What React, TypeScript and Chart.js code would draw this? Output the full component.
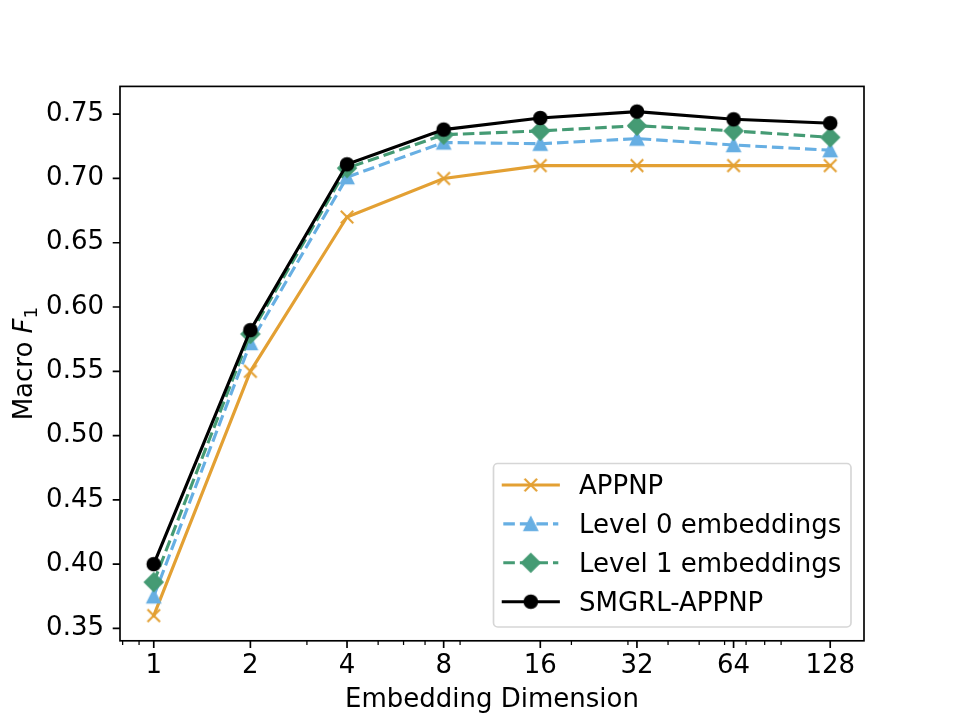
import React, { useEffect, useRef } from "react";
import { Chart, registerables } from "chart.js";

Chart.register(...registerables);

// ---------------- data ----------------
const DIMENSIONS = [1, 2, 4, 8, 16, 32, 64, 128];
const APPNP = [0.36, 0.55, 0.67, 0.7, 0.71, 0.71, 0.71, 0.71];
const LEVEL0 = [0.375, 0.572, 0.701, 0.728, 0.727, 0.731, 0.726, 0.722];
const LEVEL1 = [0.386, 0.579, 0.708, 0.734, 0.737, 0.741, 0.737, 0.732];
const SMGRL = [0.4, 0.582, 0.711, 0.738, 0.747, 0.752, 0.746, 0.743];
const SERIES_NAMES = ["APPNP", "Level 0 embeddings", "Level 1 embeddings", "SMGRL-APPNP"];
const X_TICKS = [1, 2, 4, 8, 16, 32, 64, 128];
const X_MINOR_TICKS = [0.8, 0.9, 3, 5, 6, 7, 9, 20, 30, 40, 50, 60, 70, 80, 90];
const Y_TICKS = [0.35, 0.4, 0.45, 0.5, 0.55, 0.6, 0.65, 0.7, 0.75];
const X_MIN = 0.785;
const X_MAX = 163.1;
const Y_MIN = 0.3404;
const Y_MAX = 0.7716;
const X_TITLE = "Embedding Dimension";
const Y_TITLE_MAIN = "Macro ";
const Y_TITLE_ITALIC = "F";
const Y_TITLE_SUB = "1";

// ---------------- styles ----------------
const PX = 150 / 72;
const FONT = '"DejaVu Sans", "Liberation Sans", sans-serif';
const FS = 26;
const COLORS = ["#E3A033", "#67AFE3", "#459B74", "#000000"];
const MARKERS = ["x", "triangle", "diamond", "circle"];
const DASHED = [false, true, true, false];
const DASH = [3.7 * 1.5 * PX, 1.6 * 1.5 * PX];

function makeMarker(kind: string, color: string): HTMLCanvasElement {
  const c = document.createElement("canvas");
  c.width = 30;
  c.height = 30;
  const ctx = c.getContext("2d")!;
  ctx.translate(15, 15);
  const ms = 6 * PX;
  const h = ms / 2;
  ctx.fillStyle = color;
  ctx.strokeStyle = color;
  ctx.lineWidth = 1 * PX;
  ctx.lineJoin = "miter";
  ctx.lineCap = "butt";
  ctx.beginPath();
  if (kind === "x") {
    ctx.moveTo(-h, -h);
    ctx.lineTo(h, h);
    ctx.moveTo(-h, h);
    ctx.lineTo(h, -h);
    ctx.stroke();
  } else if (kind === "triangle") {
    ctx.moveTo(0, -h);
    ctx.lineTo(-h, h);
    ctx.lineTo(h, h);
    ctx.closePath();
    ctx.fill();
    ctx.stroke();
  } else if (kind === "diamond") {
    const d = ms * Math.SQRT1_2;
    ctx.moveTo(0, -d);
    ctx.lineTo(d, 0);
    ctx.lineTo(0, d);
    ctx.lineTo(-d, 0);
    ctx.closePath();
    ctx.fill();
    ctx.stroke();
  } else {
    ctx.arc(0, 0, h, 0, Math.PI * 2);
    ctx.fill();
    ctx.stroke();
  }
  return c;
}

export default function App() {
  const ref = useRef<HTMLCanvasElement>(null);

  useEffect(() => {
    const canvas = ref.current!;
    const markerImgs = MARKERS.map((m, i) => makeMarker(m, COLORS[i]));
    const seriesValues = [APPNP, LEVEL0, LEVEL1, SMGRL];

    const datasets = seriesValues.map((vals, i) => ({
      label: SERIES_NAMES[i],
      data: DIMENSIONS.map((x, j) => ({ x, y: vals[j] })),
      borderColor: COLORS[i],
      backgroundColor: COLORS[i],
      borderWidth: 1.5 * PX,
      borderDash: DASHED[i] ? DASH : [],
      borderCapStyle: DASHED[i] ? "butt" : "square",
      pointStyle: markerImgs[i],
      pointRadius: 6,
      pointHoverRadius: 6,
      tension: 0,
      order: 3 - i,
    }));

    const decor = {
      id: "decor",
      beforeDraw(chart: any) {
        const { ctx } = chart;
        ctx.save();
        ctx.fillStyle = "#ffffff";
        ctx.fillRect(0, 0, chart.width, chart.height);
        ctx.restore();
      },
      afterDatasetsDraw(chart: any) {
        const { ctx, chartArea: a, scales } = chart;
        ctx.save();
        ctx.strokeStyle = "#000";
        ctx.setLineDash([]);
        // major ticks
        ctx.lineWidth = 0.8 * PX;
        ctx.beginPath();
        for (const v of Y_TICKS) {
          const y = scales.y.getPixelForValue(v);
          ctx.moveTo(a.left, y);
          ctx.lineTo(a.left - 3.5 * PX, y);
        }
        for (const v of X_TICKS) {
          const x = scales.x.getPixelForValue(v);
          ctx.moveTo(x, a.bottom);
          ctx.lineTo(x, a.bottom + 3.5 * PX);
        }
        ctx.stroke();
        // minor ticks
        ctx.lineWidth = 0.6 * PX;
        ctx.beginPath();
        for (const v of X_MINOR_TICKS) {
          const x = scales.x.getPixelForValue(v);
          ctx.moveTo(x, a.bottom);
          ctx.lineTo(x, a.bottom + 2 * PX);
        }
        ctx.stroke();
        // frame
        ctx.lineWidth = 0.8 * PX;
        ctx.strokeRect(a.left, a.top, a.right - a.left, a.bottom - a.top);

        // legend
        const bx = 493.5, by = 463.5, bw = 357.5, bh = 163.5;
        ctx.beginPath();
        (ctx as any).roundRect(bx, by, bw, bh, 4.2);
        ctx.fillStyle = "rgba(255,255,255,0.8)";
        ctx.fill();
        ctx.strokeStyle = "rgba(204,204,204,0.8)";
        ctx.lineWidth = 0.8 * PX;
        ctx.stroke();
        ctx.font = `${FS}px ${FONT}`;
        ctx.textAlign = "left";
        ctx.textBaseline = "alphabetic";
        for (let i = 0; i < SERIES_NAMES.length; i++) {
          const cy = 485 + i * 38.9;
          ctx.beginPath();
          ctx.strokeStyle = COLORS[i];
          ctx.lineWidth = 1.5 * PX;
          ctx.setLineDash(DASHED[i] ? DASH : []);
          ctx.lineCap = DASHED[i] ? "butt" : "square";
          ctx.moveTo(503.3, cy);
          ctx.lineTo(558.3, cy);
          ctx.stroke();
          ctx.setLineDash([]);
          const m = markerImgs[i];
          ctx.drawImage(m, 530.8 - m.width / 2, cy - m.height / 2);
          ctx.fillStyle = "#000";
          ctx.fillText(SERIES_NAMES[i], 579, cy + 9.3);
        }
        ctx.restore();
      },
      afterDraw(chart: any) {
        const { ctx, chartArea: a } = chart;
        ctx.save();
        ctx.fillStyle = "#000";
        ctx.font = `${FS}px ${FONT}`;
        ctx.textAlign = "center";
        ctx.textBaseline = "alphabetic";
        ctx.fillText(X_TITLE, (a.left + a.right) / 2, 707);

        // y title with math italic F and subscript 1
        const fMain = `${FS}px ${FONT}`;
        const fIt = `italic ${FS}px ${FONT}`;
        const fSub = `${FS * 0.7}px ${FONT}`;
        ctx.font = fMain;
        const w1 = ctx.measureText(Y_TITLE_MAIN).width;
        ctx.font = fIt;
        const w2 = ctx.measureText(Y_TITLE_ITALIC).width;
        ctx.font = fSub;
        const w3 = ctx.measureText(Y_TITLE_SUB).width;
        const total = w1 + w2 + w3;
        ctx.translate(32, (a.top + a.bottom) / 2);
        ctx.rotate(-Math.PI / 2);
        ctx.textAlign = "left";
        let x0 = -total / 2;
        ctx.font = fMain;
        ctx.fillText(Y_TITLE_MAIN, x0, 0);
        x0 += w1;
        ctx.font = fIt;
        ctx.fillText(Y_TITLE_ITALIC, x0, 0);
        x0 += w2;
        ctx.font = fSub;
        ctx.fillText(Y_TITLE_SUB, x0, 4.5);
        ctx.restore();
      },
    };

    const chart = new Chart(canvas, {
      type: "line",
      data: { datasets: datasets as any },
      options: {
        responsive: false,
        animation: false,
        devicePixelRatio: 1,
        events: [],
        layout: { padding: { top: 86.4, right: 96, left: 0, bottom: 0 } },
        plugins: {
          legend: { display: false },
          tooltip: { enabled: false },
          title: { display: false },
        },
        scales: {
          x: {
            type: "logarithmic",
            min: X_MIN,
            max: X_MAX,
            bounds: "data",
            afterBuildTicks: (s: any) => {
              s.ticks = X_TICKS.map((v) => ({ value: v }));
            },
            afterFit: (s: any) => {
              s.height = 79.2;
            },
            grid: { display: false, drawTicks: false },
            border: { display: false },
            ticks: {
              autoSkip: false,
              maxRotation: 0,
              minRotation: 0,
              padding: 10,
              color: "#000",
              font: { family: FONT, size: FS },
              callback: (v: any) => String(v),
            },
          },
          y: {
            type: "linear",
            min: Y_MIN,
            max: Y_MAX,
            bounds: "data",
            afterBuildTicks: (s: any) => {
              s.ticks = Y_TICKS.map((v) => ({ value: v }));
            },
            afterFit: (s: any) => {
              s.width = 120;
            },
            grid: { display: false, drawTicks: false },
            border: { display: false },
            ticks: {
              autoSkip: false,
              padding: 16,
              color: "#000",
              font: { family: FONT, size: FS },
              callback: (v: any) => Number(v).toFixed(2),
            },
          },
        },
      },
      plugins: [decor],
    } as any);

    return () => chart.destroy();
  }, []);

  return (
    <div style={{ position: "absolute", left: 0, top: 0, width: 960, height: 720, background: "#fff" }}>
      <canvas ref={ref} width={960} height={720} style={{ display: "block", width: 960, height: 720 }} />
    </div>
  );
}
